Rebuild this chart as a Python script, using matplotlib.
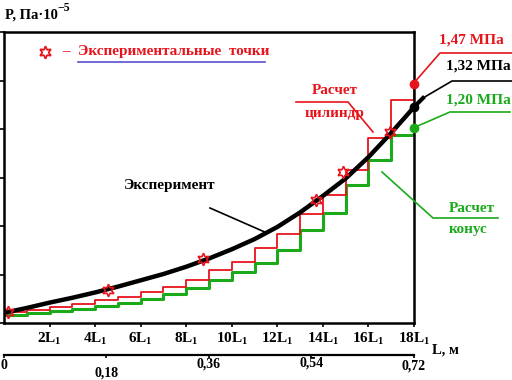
import matplotlib.pyplot as plt
from matplotlib.lines import Line2D

plt.rcParams['font.family'] = ['Liberation Serif', 'DejaVu Serif']
plt.rcParams['font.weight'] = 'bold'
plt.rcParams['mathtext.fontset'] = 'custom'
plt.rcParams['mathtext.rm'] = 'Liberation Serif:bold'
plt.rcParams['mathtext.it'] = 'Liberation Serif:bold'
plt.rcParams['mathtext.bf'] = 'Liberation Serif:bold'

RED = '#e8141c'
GREEN = '#1aaa1a'

# x in units of L1, P in units of 10^5 Pa (one y tick = 1)
steps = list(range(19))
# experiment (smooth curve), read at every L1
exp_curve = [0.21, 0.31, 0.42, 0.52, 0.63, 0.75, 0.88, 1.01, 1.16, 1.33,
             1.52, 1.73, 1.98, 2.28, 2.62, 2.98, 3.42, 3.92, 4.45]
# calculation, cylinder: level on each L1 section + value at the outlet
cyl_levels = [0.23, 0.27, 0.33, 0.39, 0.47, 0.54, 0.64, 0.74, 0.89, 1.09,
              1.26, 1.55, 1.84, 2.25, 2.64, 3.16, 3.81, 4.60, 4.93]
# calculation, cone
cone_levels = [0.17, 0.21, 0.25, 0.29, 0.35, 0.41, 0.50, 0.60, 0.72, 0.89,
               1.05, 1.24, 1.51, 1.92, 2.27, 2.85, 3.36, 3.88, 4.02]
# experimental points
pts_x = [0.18, 4.56, 8.73, 13.7, 14.9, 16.95]
pts_y = [0.23, 0.68, 1.32, 2.54, 3.11, 3.94]

xticks = [2, 4, 6, 8, 10, 12, 14, 16, 18]
xlabels = ['2L$_1$', '4L$_1$', '6L$_1$', '8L$_1$', '10L$_1$', '12L$_1$',
           '14L$_1$', '16L$_1$', '18L$_1$']
m_ticks = [0, 0.18, 0.36, 0.54, 0.72]
m_labels = ['0', '0,18', '0,36', '0,54', '0,72']
m_pads = [1, 6, 0, -1, 1]
L1 = 0.04  # m

fig = plt.figure(figsize=(5.12, 3.8), dpi=100)
ax = fig.add_axes([4/512, 57/380, 410/512, 291/380])
ax.set_xlim(0, 18)
ax.set_ylim(0, 6)

ax.plot(steps, cone_levels, drawstyle='steps-post', color=GREEN, lw=2.2)
ax.plot(steps, cyl_levels, drawstyle='steps-post', color=RED, lw=1.3)
ax.plot(steps, exp_curve, color='black', lw=3.2)
ax.plot(pts_x, pts_y, ls='none', marker=(6, 1, 0), ms=9, mfc='none',
        mec=RED, mew=1.2)

ax.plot([18], [cyl_levels[-1]], 'o', color=RED, ms=6, clip_on=False, zorder=5)
ax.plot([18], [exp_curve[-1]], 'o', color='black', ms=6, clip_on=False, zorder=5)
ax.plot([18], [cone_levels[-1]], 'o', color=GREEN, ms=6, clip_on=False, zorder=5)

for s in ax.spines.values():
    s.set_linewidth(1.8)
ax.set_xticks(xticks)
ax.set_xticklabels(xlabels, fontsize=11)
ax.set_yticks(range(7))
ax.set_yticklabels([])
ax.tick_params(direction='out', length=3, width=1.2, pad=3)

sec = ax.secondary_xaxis(-0.11, functions=(lambda l: l*L1, lambda m: m/L1))
sec.set_xticks(m_ticks)
sec.set_xticklabels(m_labels, fontsize=10)
sec.spines['bottom'].set_linewidth(1.6)
sec.tick_params(length=2, width=1.2)
for t, p in zip(sec.xaxis.get_major_ticks(), m_pads):
    t.set_pad(p)


def px(x, y):
    return x/512, 1 - y/380


def line(pts, color, lw=1.0):
    xs = [px(x, y)[0] for x, y in pts]
    ys = [px(x, y)[1] for x, y in pts]
    fig.add_artist(Line2D(xs, ys, color=color, lw=lw, transform=fig.transFigure))


def txt(x, y, s, color, size=11, ha='left'):
    fig.text(*px(x, y), s, color=color, fontsize=size, ha=ha, va='center',
             fontweight='bold')


# axis title
txt(5, 15, 'P, Па·10', 'black', 10.5)
txt(57, 8, '−5', 'black', 8.5)
txt(432, 350, 'L, м', 'black', 10.5)

# legend
fig.add_artist(Line2D([px(45, 52)[0]], [px(45, 52)[1]], marker=(6, 1, 0), ms=9,
                      mfc='none', mec=RED, mew=1.3, transform=fig.transFigure))
txt(62, 52, '–', RED, 11)
txt(78, 52, 'Экспериментальные  точки', RED, 11)
line([(78, 62), (265, 62)], '#5a50c8', 1.2)

# captions with leaders
txt(170, 185, 'Эксперимент', 'black', 11, 'center')
line([(210, 208), (267, 233)], 'black', 1.2)

txt(335, 91, 'Расчет', RED, 11, 'center')
txt(335, 113, 'цилиндр', RED, 11, 'center')
line([(296, 102), (348, 102), (373, 132)], RED, 1.2)

txt(472, 208, 'Расчет', GREEN, 11, 'center')
txt(468, 230, 'конус', GREEN, 11, 'center')
line([(382, 172), (433, 218), (498, 218)], GREEN, 1.2)

txt(471, 40, '1,47 МПа', RED, 11, 'center')
line([(413, 84), (440, 53), (512, 53)], RED, 1.2)
txt(478, 66, '1,32 МПа', 'black', 11, 'center')
line([(413, 108), (423, 98)], 'black', 3.0)
line([(423, 98), (452, 81), (512, 81)], 'black', 1.2)
txt(478, 100, '1,20 МПа', GREEN, 11, 'center')
line([(413, 128), (450, 112), (510, 112)], GREEN, 1.2)

fig.savefig('out.png', dpi=100)
